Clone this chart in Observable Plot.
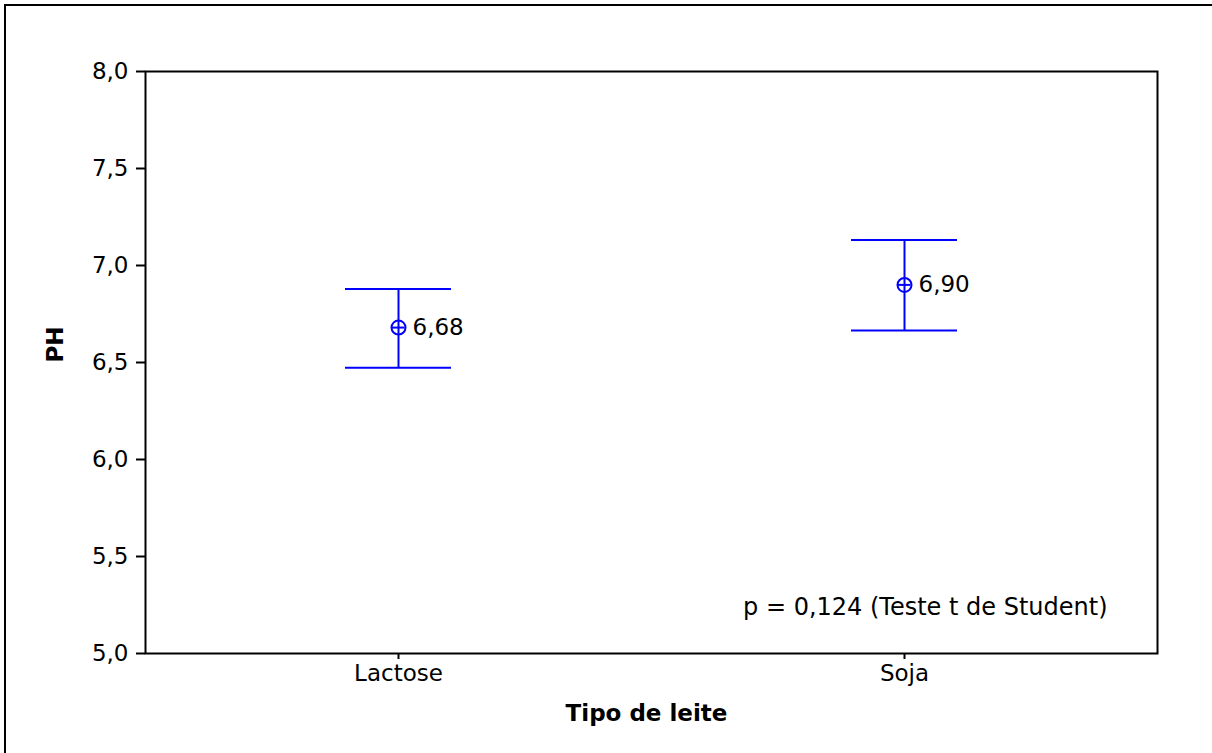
<!DOCTYPE html>
<html>
<head>
<meta charset="utf-8">
<script src="https://cdn.jsdelivr.net/npm/d3@7"></script>
<script src="https://cdn.jsdelivr.net/npm/@observablehq/plot@0.6"></script>
<style>
  html, body { margin: 0; padding: 0; background: white; }
  #wrap { position: relative; width: 1212px; height: 753px; overflow: hidden; }
  #outer { position: absolute; left: 4px; top: 4px; width: 1300px; height: 800px;
           border-left: 2px solid #000; border-top: 2px solid #000; pointer-events: none; }
  #chart { position: absolute; left: 0; top: 0; }
</style>
</head>
<body>
<div id="wrap"><div id="chart"></div><div id="outer"></div></div>
<script>
const groups = ["Lactose", "Soja"];
const means = [6.68, 6.90];
const lower = [6.473, 6.665];
const upper = [6.879, 7.132];
const meanLabels = ["6,68", "6,90"];
const yTicks = [5.0, 5.5, 6.0, 6.5, 7.0, 7.5, 8.0];
const xTitle = "Tipo de leite";
const yTitle = "PH";
const pText = "p = 0,124 (Teste t de Student)";

const data = groups.map((g, i) => ({g, mean: means[i], lo: lower[i], hi: upper[i], label: meanLabels[i]}));
const fmt = d => d.toFixed(1).replace(".", ",");
const blue = "#0000ff";

const chart = Plot.plot({
  width: 1212,
  height: 753,
  marginLeft: 145,
  marginRight: 55,
  marginTop: 71,
  marginBottom: 100,
  style: {fontFamily: "DejaVu Sans", fontSize: "23px", color: "black", background: "white", overflow: "visible"},
  x: {type: "band", domain: groups, paddingInner: 0.791, paddingOuter: 0.394, label: null},
  y: {domain: [5, 8], label: null},
  marks: [
    Plot.frame({stroke: "black", strokeWidth: 2}),
    Plot.axisY({ticks: yTicks, tickFormat: fmt, tickSize: 9, tickPadding: 8, strokeWidth: 2, label: null, fontSize: 23}),
    Plot.axisX({tickSize: 6, tickPadding: 5, strokeWidth: 2, label: null, fontSize: 23}),
    Plot.ruleX(data, {x: "g", y1: "lo", y2: "hi", stroke: blue, strokeWidth: 2}),
    Plot.tickY(data, {x: "g", y: "lo", stroke: blue, strokeWidth: 2}),
    Plot.tickY(data, {x: "g", y: "hi", stroke: blue, strokeWidth: 2}),
    Plot.tickY(data, {x: "g", y: "mean", stroke: blue, strokeWidth: 2, insetLeft: 46.5, insetRight: 46.5}),
    Plot.dot(data, {x: "g", y: "mean", r: 7, stroke: blue, strokeWidth: 2, fill: "none"}),
    Plot.text(data, {x: "g", y: "mean", text: "label", textAnchor: "start", dx: 14, fill: "black", fontSize: 23}),
    Plot.text([pText], {frameAnchor: "bottom-right", textAnchor: "end", lineAnchor: "middle", dx: -50, dy: -46, fontSize: 24, fill: "black"}),
    Plot.text([xTitle], {frameAnchor: "bottom", lineAnchor: "middle", dy: 60, dx: -5, fontWeight: "bold", fontSize: 23, fill: "black"}),
    Plot.text([yTitle], {frameAnchor: "left", rotate: -90, dx: -90, fontWeight: "bold", fontSize: 23, fill: "black"})
  ]
});
document.getElementById("chart").appendChild(chart);
</script>
</body>
</html>
